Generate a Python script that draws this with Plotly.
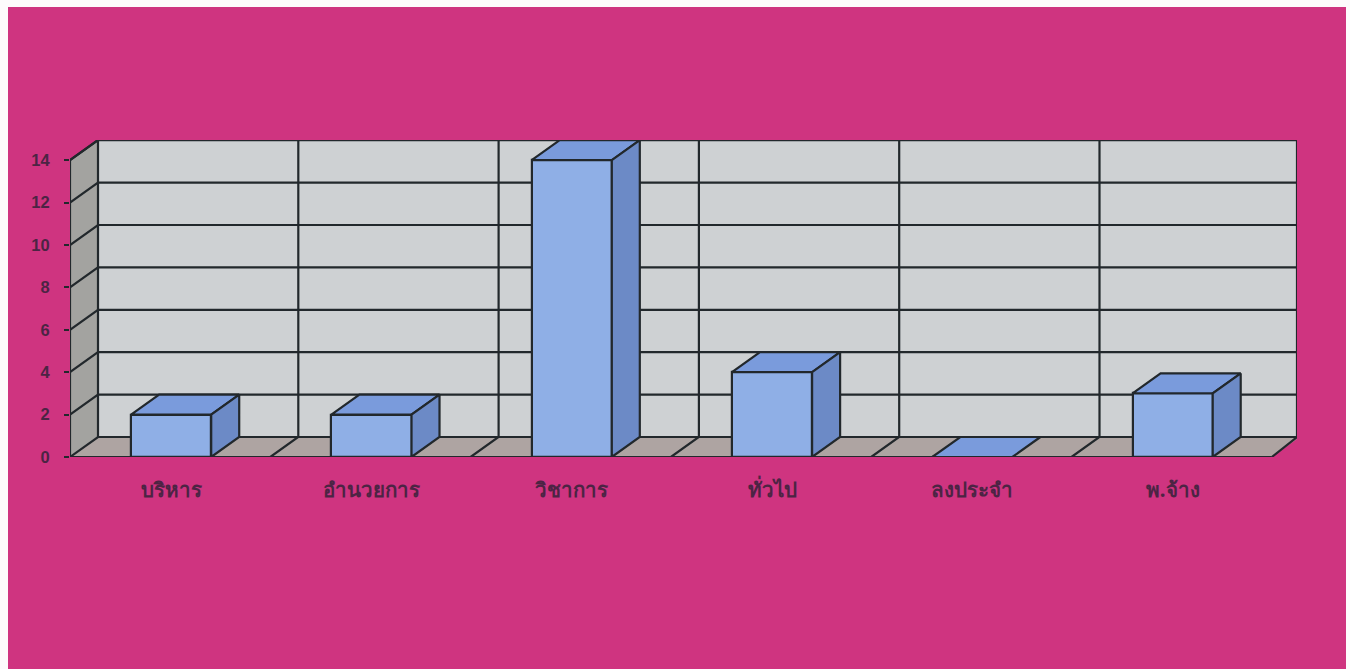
import plotly.graph_objects as go

categories = ["บริหาร", "อำนวยการ", "วิชาการ", "ทั่วไป", "ลงประจำ", "พ.จ้าง"]
values = [2, 2, 14, 4, 0, 3]
y_ticks = [0, 2, 4, 6, 8, 10, 12, 14]

W, H = 1350, 669
L, R, T, B = 70, 1297, 140, 457      # plot box in pixels
PX_X, PX_Y = 200.3, 21.2             # pixels per category / per unit
DX, DY = 28 / PX_X, 20 / PX_Y        # oblique depth in axis units
BAR = 0.4
BAR_SHIFT = 0.505

PINK = "#cf3480"
LINE = "#22282c"
BACK = "#ced1d3"
SIDE_WALL = "#a3a3a0"
FLOOR = "#aea4a2"
FRONT = "#8fafe6"
TOP = "#7a9bdc"
RIGHT = "#6c8ac6"
TEXT = "#4c2444"

n = len(categories)
centers = [i + BAR_SHIFT for i in range(n)]
x_max = (R - L) / PX_X
y_max = (B - T) / PX_Y


def poly(points):
    return "M " + " L ".join(f"{x},{y}" for x, y in points) + " Z"


def seg(points, width=2.2, color=LINE):
    return dict(type="path", xref="x", yref="y", layer="below",
                path="M " + " L ".join(f"{x},{y}" for x, y in points),
                line=dict(color=color, width=width))


def face(points, fill):
    return dict(type="path", xref="x", yref="y", layer="below", path=poly(points),
                fillcolor=fill, line=dict(color=fill, width=0))


top_val = y_ticks[-1]
shapes = [
    # page background inside the scanned white margin
    dict(type="rect", xref="paper", yref="paper", layer="below",
         x0=(8 - L) / (R - L), x1=(1346 - L) / (R - L),
         y0=(B - 669) / (B - T), y1=(B - 7) / (B - T),
         fillcolor=PINK, line=dict(width=0)),
    face([(DX, DY), (x_max, DY), (x_max, y_max), (DX, y_max)], BACK),
    face([(0, 0), (DX, DY), (DX, y_max), (0, top_val)], SIDE_WALL),
    face([(0, 0), (n, 0), (n + DX, DY), (DX, DY)], FLOOR),
]
for v in y_ticks[1:]:
    shapes.append(seg([(0, v), (DX, v + DY), (x_max, v + DY)]))
for k in range(1, n):
    shapes.append(seg([(k, 0), (k + DX, DY), (k + DX, y_max)]))
shapes += [
    seg([(DX, y_max), (x_max, y_max), (x_max, DY), (n, 0)]),
    seg([(0, 0), (DX, DY), (x_max, DY)]),
    seg([(0, 0), (0, top_val), (DX, y_max), (DX, DY)]),
    seg([(0, 0), (n, 0)]),
]

fig = go.Figure()
fig.add_trace(go.Bar(x=centers, y=values, width=BAR,
                     marker=dict(color=FRONT, line=dict(color=LINE, width=2.2)),
                     showlegend=False, hoverinfo="skip"))

for c, v in zip(centers, values):
    x0, x1 = c - BAR / 2, c + BAR / 2
    fig.add_trace(go.Scatter(
        x=[x0, x1, x1 + DX, x0 + DX, x0], y=[v, v, v + DY, v + DY, v],
        mode="lines", fill="toself", fillcolor=TOP,
        line=dict(color=LINE, width=2.2), showlegend=False, hoverinfo="skip"))
    if v > 0:
        fig.add_trace(go.Scatter(
            x=[x1, x1 + DX, x1 + DX, x1, x1], y=[0, DY, v + DY, v, 0],
            mode="lines", fill="toself", fillcolor=RIGHT,
            line=dict(color=LINE, width=2.2), showlegend=False, hoverinfo="skip"))

fig.update_layout(
    width=W, height=H, autosize=False,
    margin=dict(l=L, r=W - R, t=T, b=H - B, pad=0),
    paper_bgcolor="#fdfbfc", plot_bgcolor="rgba(0,0,0,0)",
    shapes=shapes, showlegend=False, bargap=0,
    xaxis=dict(range=[0, x_max], tickmode="array", tickvals=centers, ticktext=categories,
               showgrid=False, zeroline=False, showline=False, ticks="",
               ticklabelstandoff=18,
               tickfont=dict(family="Noto Sans, Liberation Sans, sans-serif", size=20.5,
                             color=TEXT, weight="bold")),
    yaxis=dict(range=[0, y_max], tickmode="array", tickvals=y_ticks,
               showgrid=False, zeroline=False, showline=False,
               ticks="outside", ticklen=5, tickwidth=2, tickcolor=LINE,
               ticklabelstandoff=11,
               tickfont=dict(family="Liberation Sans, sans-serif", size=16.5,
                             color=TEXT, weight="bold")),
)

fig.write_html("out.html", config=dict(displayModeBar=False),
               post_script="document.body.style.margin='0';document.body.style.overflow='hidden';")
